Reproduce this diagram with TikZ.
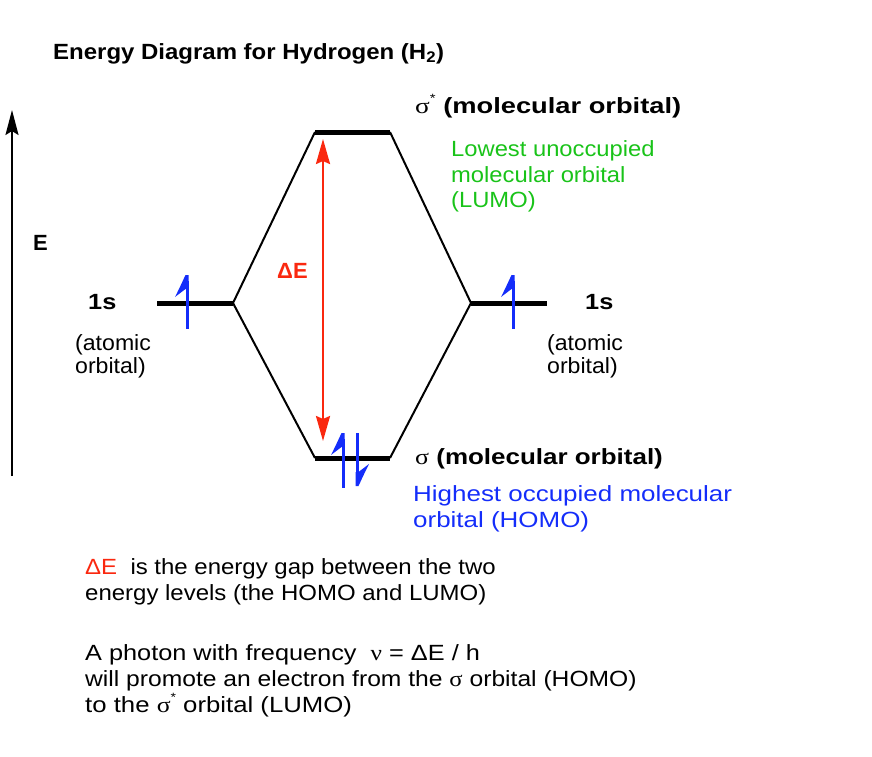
\documentclass[tikz,border=0pt]{standalone}
\usepackage{fontspec}
\setmainfont{Liberation Sans}
\newfontfamily\grk{Liberation Serif}
\usetikzlibrary{arrows.meta}
\definecolor{lumo}{RGB}{25,195,25}
\definecolor{homo}{RGB}{20,45,250}
\definecolor{dered}{RGB}{250,40,15}
\newcommand{\sx}[2]{\scalebox{#1}[1]{#2}}
\tikzset{
  txt/.style={anchor=base west, inner sep=0pt, font=\fontsize{22}{26}\selectfont},
  btxt/.style={txt, font=\fontsize{22}{26}\selectfont\bfseries},
  level/.style={line width=5pt},
  conn/.style={line width=2pt},
  elec/.style={homo, line width=3pt},
}
\newcommand{\elecup}[3]{% x, top, bottom
  \draw[elec] (#1,#2+6) -- (#1,#3);
  \fill[homo] (#1-1.5,#2) -- (#1+1.5,#2) -- (#1+1.5,#2+14) -- (#1-1.5,#2+14) -- (#1-12,#2+22) .. controls (#1-8,#2+14) .. (#1-1.5,#2) -- cycle;
}
\newcommand{\elecdown}[3]{% x, top, bottom
  \draw[elec] (#1,#2) -- (#1,#3-6);
  \fill[homo] (#1+1.5,#3) -- (#1-1.5,#3) -- (#1-1.5,#3-14) -- (#1+1.5,#3-14) -- (#1+12,#3-22) .. controls (#1+8,#3-14) .. (#1+1.5,#3) -- cycle;
}
\begin{document}
\begin{tikzpicture}[x=1pt,y=-1pt]
\useasboundingbox (0,0) rectangle (872,756);
% title
\node[btxt] (title) at (53,59) {\sx{1.09}{Energy Diagram for Hydrogen (H\textsubscript{2})}};
% energy axis
\coordinate (ebot) at (12,476);
\coordinate (etop) at (12,110);
\draw[line width=2pt, -{Stealth[length=25pt,width=13pt,inset=4pt]}] (ebot) -- (etop);
\node[btxt] (E) at (33,250) {E};
% levels
\coordinate (l1a) at (157,303); \coordinate (l1b) at (233,303);
\coordinate (r1a) at (471,303); \coordinate (r1b) at (547,303);
\coordinate (ssa) at (315,132); \coordinate (ssb) at (390,132);
\coordinate (sa) at (315,458);  \coordinate (sb) at (390,458);
\draw[level] (l1a) -- (l1b);
\draw[level] (r1a) -- (r1b);
\draw[level] (ssa) -- (ssb);
\draw[level] (sa) -- (sb);
\draw[conn, line join=miter] (ssa) -- (l1b) -- (sa);
\draw[conn, line join=miter] (ssb) -- (r1a) -- (sb);
% delta E arrow
\coordinate (dtop) at (323,139);
\coordinate (dbot) at (323,441);
\draw[dered, line width=2.5pt, {Stealth[length=25pt,width=14pt,inset=3pt]}-{Stealth[length=25pt,width=14pt,inset=3pt]}] (dbot) -- (dtop);
\node[btxt, text=dered] (dE) at (277,278) {ΔE};
% electrons
\elecup{187}{275}{329}
\elecup{513}{275}{329}
\elecup{343}{433}{488}
\elecdown{357}{433}{486}
% side labels
\node[btxt] (s1l) at (88,309) {\sx{1.15}{1s}};
\node[txt] (al1) at (75,350) {\sx{1.05}{(atomic}};
\node[txt] (al2) at (75,373) {\sx{1.05}{orbital)}};
\node[btxt] (s1r) at (585,309) {\sx{1.15}{1s}};
\node[txt] (ar1) at (547,350) {\sx{1.05}{(atomic}};
\node[txt] (ar2) at (547,373) {\sx{1.05}{orbital)}};
% sigma star
\node[btxt] (sst) at (415,113) {\sx{1.24}{{\grk\mdseries σ}\raisebox{0.5em}{\fontsize{12}{12}\selectfont\mdseries *} (molecular orbital)}};
\node[txt, text=lumo] (lu1) at (451,156) {\sx{1.08}{Lowest unoccupied}};
\node[txt, text=lumo] (lu2) at (451,182) {\sx{1.08}{molecular orbital}};
\node[txt, text=lumo] (lu3) at (451,207) {\sx{1.08}{(LUMO)}};
% sigma
\node[btxt] (sg) at (415,464) {\sx{1.18}{{\grk\mdseries σ} (molecular orbital)}};
\node[txt, text=homo] (ho1) at (413,501) {\sx{1.18}{Highest occupied molecular}};
\node[txt, text=homo] (ho2) at (413,527) {\sx{1.18}{orbital (HOMO)}};
% bottom text
\node[txt] (b1) at (85,574) {\sx{1.09}{\textcolor{dered}{ΔE}\ \ is the energy gap between the two}};
\node[txt] (b2) at (85,600) {\sx{1.09}{energy levels (the HOMO and LUMO)}};
\node[txt] (b3) at (85,660) {\sx{1.15}{A photon with frequency\ \ {\grk ν} = ΔE / h}};
\node[txt] (b4) at (85,686) {\sx{1.12}{will promote an electron from the {\grk σ} orbital (HOMO)}};
\node[txt] (b5) at (85,712) {\sx{1.17}{to the {\grk σ}\raisebox{0.5em}{\fontsize{12}{12}\selectfont *} orbital (LUMO)}};
\end{tikzpicture}
\end{document}
